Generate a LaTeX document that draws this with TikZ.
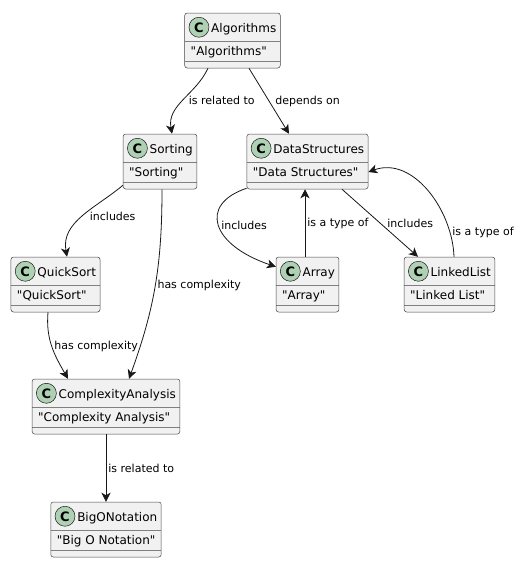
\documentclass[tikz,border=0pt]{standalone}
\usepackage{fontspec}
\setmainfont[Ligatures=TeXOff]{DejaVu Sans}
\usetikzlibrary{positioning,arrows.meta}
\definecolor{classfill}{HTML}{F1F1F1}
\definecolor{classline}{HTML}{181818}
\definecolor{iconfill}{HTML}{ADD1B2}
\tikzset{
    on grid,
    classbox/.style = {
        draw=classline!80,
        fill=classfill,
        shape=rectangle,
        rounded corners=2.5pt,
        line width=0.5pt,
        inner xsep=4pt,
        inner ysep=0pt,
        font=\fontsize{12}{14}\selectfont,
        path picture={
            \draw[classline!55, line width=0.5pt]
                ([yshift=-28.5pt]path picture bounding box.north west) -- ([yshift=-28.5pt]path picture bounding box.north east)
                ([yshift=-48.5pt]path picture bounding box.north west) -- ([yshift=-48.5pt]path picture bounding box.north east);
        }
    },
    classicon/.style = {
        draw=classline,
        fill=iconfill,
        shape=circle,
        line width=0.5pt,
        inner sep=0pt,
        minimum size=20pt,
        font=\fontsize{13}{14}\selectfont\bfseries
    },
    relation/.style = {
        draw=classline,
        line width=0.8pt
    },
    rellabel/.style = {
        font=\fontsize{11}{13}\selectfont,
        inner sep=2pt
    },
    >={Stealth[length=9pt,width=9pt,inset=2.5pt]},
}
\newcommand{\classicon}{\tikz[baseline=(icon.base)]\node[classicon] (icon) {C};}
\newcommand{\umlclass}[2]{\vbox{\offinterlineskip
    \hbox{\vrule height 19pt depth 9pt width 0pt\classicon\hspace{2pt}#1}
    \hbox{\vrule height 14pt depth 6pt width 0pt\hspace{2pt}"#2"}
    \vskip 7pt}}

\begin{document}
\begin{tikzpicture}
    \useasboundingbox (0,0) rectangle (522pt,-570pt);

    % classes
    \node[classbox] (algorithms) at (232.5pt,-40.5pt) {\umlclass{Algorithms}{Algorithms}};
    \node[classbox, below left=121pt and 72.5pt of algorithms] (sorting) {\umlclass{Sorting}{Sorting}};
    \node[classbox, below right=121pt and 75pt of algorithms] (datastructures) {\umlclass{DataStructures}{Data Structures}};
    \node[classbox, below left=123pt and 104.5pt of sorting] (quicksort) {\umlclass{QuickSort}{QuickSort}};
    \node[classbox, below=123pt of datastructures] (array) {\umlclass{Array}{Array}};
    \node[classbox, right=142pt of array] (linkedlist) {\umlclass{LinkedList}{Linked List}};
    \node[classbox, below right=122pt and 50.5pt of quicksort] (complexity) {\umlclass{ComplexityAnalysis}{Complexity Analysis}};
    \node[classbox, below=123pt of complexity] (bigonotation) {\umlclass{BigONotation}{Big O Notation}};

    % relations
    \path[relation, ->] ([xshift=-24.5pt]algorithms.south) to[out=-115, in=100] node[rellabel, right, xshift=3pt] {is related to} ([xshift=12pt]sorting.north);
    \path[relation, ->] ([xshift=16.5pt]algorithms.south) -- node[rellabel, right, xshift=4pt] {depends on} ([xshift=-18.5pt]datastructures.north);

    \path[relation, ->] ([yshift=4pt]sorting.south west) to[out=-140, in=100] node[rellabel, right, pos=.5, xshift=5pt] {includes} ([xshift=11.5pt]quicksort.north);
    \path[relation, ->] ([xshift=2pt]sorting.south) to[out=-90, in=70] node[rellabel, right, pos=.5] {has complexity} ([xshift=23pt]complexity.north);
    \path[relation, ->] ([xshift=-7.5pt]quicksort.south) to[out=-95, in=120] node[rellabel, right] {has complexity} ([xshift=-38pt]complexity.north);
    \path[relation, ->] (complexity) -- node[rellabel, right] {is related to} (bigonotation);

    \path[relation, ->] ([yshift=1pt]datastructures.south west) .. controls +(-48pt,-16pt) and +(-65pt,22pt) .. node[rellabel, right] {includes} ([yshift=-10pt]array.north west);
    \path[relation, ->] ([xshift=-2.5pt]array.north) -- node[rellabel, right] {is a type of} ([xshift=-2.5pt]datastructures.south);
    \path[relation, ->] ([xshift=34.5pt]datastructures.south) -- node[rellabel, right, xshift=5pt] {includes} ([xshift=-31.5pt]linkedlist.north);
    \path[relation, ->] ([xshift=4.5pt]linkedlist.north) to[out=92, in=20] node[rellabel, right, pos=.17] {is a type of} ([yshift=-10.5pt]datastructures.east);
\end{tikzpicture}
\end{document}
